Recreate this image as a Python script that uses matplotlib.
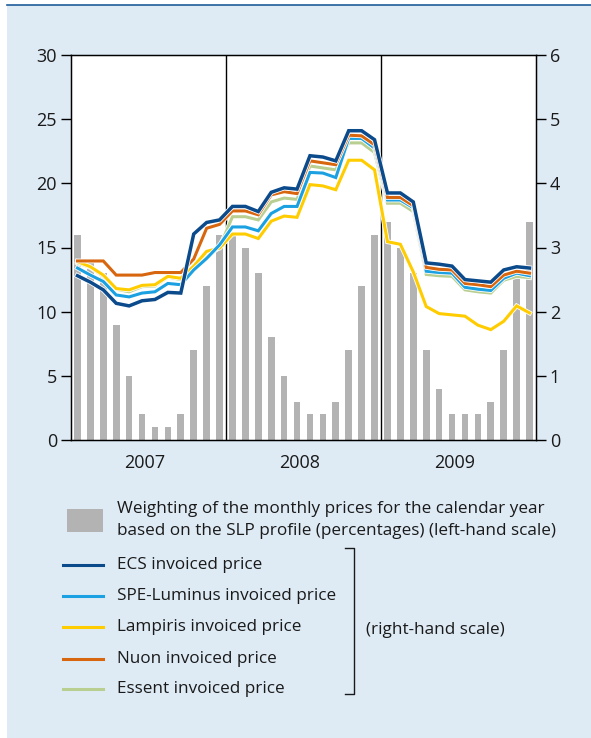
import matplotlib
matplotlib.use("Agg")
import matplotlib.pyplot as plt
import matplotlib.patheffects as pe
from matplotlib.patches import Rectangle
from matplotlib.lines import Line2D
import numpy as np

plt.rcParams['font.family'] = ['Open Sans', 'DejaVu Sans']

# data
years = ['2007', '2008', '2009']
# SLP weighting of each month (percent, left-hand scale)
weighting = [16, 14, 13, 9, 5, 2, 1, 1, 2, 7, 12, 16,
             16, 15, 13, 8, 5, 3, 2, 2, 3, 7, 12, 16,
             17, 15, 13, 7, 4, 2, 2, 2, 3, 7, 13, 17]
# invoiced prices (right-hand scale)
ecs = [2.56, 2.46, 2.34, 2.13, 2.09, 2.17, 2.19, 2.30, 2.29, 3.21, 3.39, 3.43,
       3.64, 3.64, 3.56, 3.86, 3.93, 3.91, 4.43, 4.41, 4.35, 4.82, 4.82, 4.68,
       3.85, 3.85, 3.71, 2.76, 2.74, 2.71, 2.50, 2.48, 2.46, 2.65, 2.70, 2.68]
spe = [2.68, 2.57, 2.47, 2.26, 2.23, 2.29, 2.31, 2.44, 2.42, 2.65, 2.83, 3.04,
       3.32, 3.32, 3.26, 3.53, 3.64, 3.64, 4.17, 4.16, 4.09, 4.70, 4.70, 4.55,
       3.74, 3.74, 3.62, 2.63, 2.61, 2.60, 2.38, 2.35, 2.33, 2.52, 2.60, 2.56]
lampiris = [2.78, 2.70, 2.57, 2.36, 2.34, 2.41, 2.42, 2.55, 2.52, 2.71, 2.94, 2.99,
            3.21, 3.21, 3.14, 3.41, 3.49, 3.47, 3.98, 3.96, 3.90, 4.36, 4.36, 4.21,
            3.09, 3.05, 2.62, 2.08, 1.97, 1.95, 1.93, 1.79, 1.72, 1.85, 2.09, 1.98]
nuon = [2.79, 2.79, 2.79, 2.57, 2.57, 2.57, 2.61, 2.61, 2.61, 2.82, 3.30, 3.36,
        3.57, 3.57, 3.51, 3.82, 3.87, 3.84, 4.35, 4.32, 4.29, 4.75, 4.74, 4.60,
        3.78, 3.78, 3.65, 2.69, 2.66, 2.65, 2.44, 2.42, 2.39, 2.57, 2.63, 2.60]
essent = [2.76, 2.69, 2.55, 2.35, 2.31, 2.39, 2.40, 2.54, 2.50, 2.70, 2.86, 3.00,
          3.48, 3.48, 3.43, 3.71, 3.77, 3.75, 4.27, 4.24, 4.21, 4.63, 4.63, 4.48,
          3.69, 3.69, 3.56, 2.58, 2.56, 2.55, 2.34, 2.31, 2.29, 2.49, 2.55, 2.53]

W, H = 591, 738
fig = plt.figure(figsize=(W / 100, H / 100), dpi=100)
fig.patch.set_facecolor('white')
bg = '#deebf5'
fig.patches.append(Rectangle((7 / W, 0), 1 - 7 / W, 1 - 5 / H, transform=fig.transFigure,
                             facecolor=bg, edgecolor='none', zorder=-10))
fig.lines.append(Line2D([7 / W, 1], [1 - 5 / H, 1 - 5 / H], transform=fig.transFigure,
                        color='#1f5c99', lw=1.2))

ax = fig.add_axes([71 / W, (H - 440) / H, 465 / W, 385 / H])
ax.set_facecolor('white')
x = np.arange(len(weighting)) + 0.5
ax.bar(x, weighting, width=0.52, color='#b3b3b3', zorder=1)
ax.set_xlim(0, 36)
ax.set_ylim(0, 30)
ax.set_yticks(range(0, 31, 5))
for b in (12, 24):
    ax.axvline(b, color='black', lw=1.0, zorder=0.5)
ax.set_xticks([])
for i, yr in enumerate(years):
    ax.text(12 * i + 5.7, -1.8, yr, ha='center', va='center', fontsize=13, color='#1a1a1a')
ax.tick_params(axis='y', direction='out', length=7, width=1, labelsize=13,
               labelcolor='#1a1a1a', pad=3)
for s in ax.spines.values():
    s.set_linewidth(1.0)

ax2 = ax.twinx()
ax2.set_ylim(0, 6)
ax2.set_yticks(range(0, 7))
ax2.tick_params(axis='y', direction='out', length=7, width=1, labelsize=13,
                labelcolor='#1a1a1a', pad=3)

series = [
    (essent, '#b9cf92', 2.2, 'Essent invoiced price'),
    (lampiris, '#ffcc00', 2.2, 'Lampiris invoiced price'),
    (spe, '#1ba1e2', 2.2, 'SPE-Luminus invoiced price'),
    (nuon, '#d8660e', 2.2, 'Nuon invoiced price'),
    (ecs, '#0b4a8b', 2.5, 'ECS invoiced price'),
]
for vals, col, lw, lab in series:
    ax2.plot(x, vals, color=col, lw=lw, solid_joinstyle='miter',
             path_effects=[pe.Stroke(linewidth=lw + 1.2, foreground='white'), pe.Normal()])

# legend drawn by hand in figure pixels
def fx(px):
    return px / W

def fy(py):
    return 1 - py / H

fig.patches.append(Rectangle((fx(67), fy(532)), fx(36), 23 / H, transform=fig.transFigure,
                             facecolor='#b3b3b3', edgecolor='none'))
fig.text(fx(117), fy(509), 'Weighting of the monthly prices for the calendar year',
         fontsize=12.3, va='center', color='#1a1a1a')
fig.text(fx(117), fy(531), 'based on the SLP profile (percentages) (left-hand scale)',
         fontsize=12.3, va='center', color='#1a1a1a')
leg_items = [
    ('ECS invoiced price', '#0b4a8b', 565),
    ('SPE-Luminus invoiced price', '#1ba1e2', 596),
    ('Lampiris invoiced price', '#ffcc00', 627),
    ('Nuon invoiced price', '#d8660e', 659),
    ('Essent invoiced price', '#b9cf92', 689),
]
for lab, col, py in leg_items:
    fig.lines.append(Line2D([fx(63), fx(103)], [fy(py), fy(py)], transform=fig.transFigure,
                            color=col, lw=2.2))
    fig.text(fx(117), fy(py), lab, fontsize=12.3, va='center', color='#1a1a1a')
fig.lines.append(Line2D([fx(345), fx(354), fx(354), fx(345)], [fy(548), fy(548), fy(694), fy(694)],
                        transform=fig.transFigure, color='#1a1a1a', lw=1.0))
fig.text(fx(366), fy(630), '(right-hand scale)', fontsize=12.3, va='center', color='#1a1a1a')

fig.savefig('out.png', dpi=100, facecolor=fig.get_facecolor())
